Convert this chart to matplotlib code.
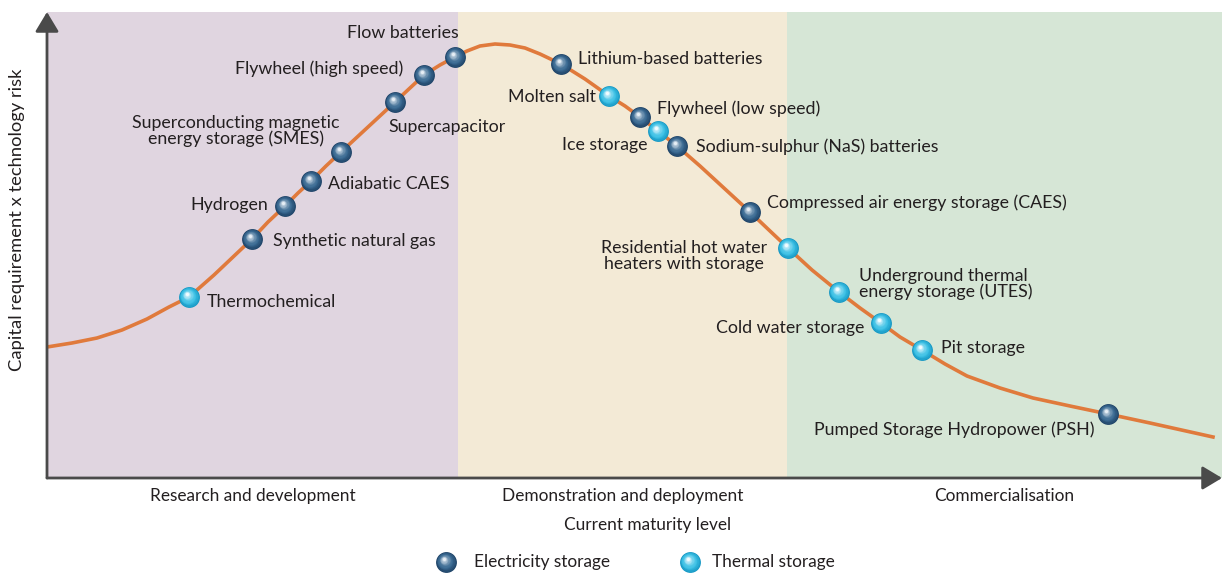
import matplotlib
matplotlib.use("Agg")
import matplotlib.pyplot as plt
import numpy as np

plt.rcParams['font.family'] = ['Lato', 'DejaVu Sans']

# maturity (x) and capital requirement x risk (y)
curve_x = [0, 25, 50, 75, 100, 122, 142, 167, 186, 205, 221, 238, 251, 264, 279, 294, 321,
           348, 363, 377, 393, 408, 420, 433, 448, 463, 478, 493, 514, 538, 562, 578,
           593, 611, 630, 653, 678, 703, 723, 741, 765, 792, 813, 834, 853, 875, 898,
           920, 953, 986, 1023, 1061, 1103, 1166]
curve_y = [131, 135, 140, 148, 159, 171, 181, 203, 221, 239, 256, 272, 285, 297, 312, 326, 351,
           376, 390, 403, 413, 421, 427, 432, 434, 433, 430, 424, 414, 399, 382, 372,
           361, 347, 332, 312, 289, 266, 247, 230, 208, 186, 170, 155, 141, 128, 114,
           102, 90, 80, 72, 64, 55, 41]

tech_names = ["Thermochemical", "Synthetic natural gas", "Hydrogen", "Adiabatic CAES",
              "Superconducting magnetic\nenergy storage (SMES)", "Supercapacitor",
              "Flywheel (high speed)", "Flow batteries", "Lithium-based batteries",
              "Molten salt", "Flywheel (low speed)", "Ice storage",
              "Sodium-sulphur (NaS) batteries", "Compressed air energy storage (CAES)",
              "Residential hot water\nheaters with storage",
              "Underground thermal\nenergy storage (UTES)", "Cold water storage",
              "Pit storage", "Pumped Storage Hydropower (PSH)"]
tech_x = [142, 205, 238, 264, 294, 348, 377, 408, 514, 562, 593, 611, 630, 703, 741,
          792, 834, 875, 1061]
tech_y = [181, 239, 272, 297, 326, 376, 403, 421, 414, 382, 361, 347, 332, 266, 230,
          186, 155, 128, 64]
tech_kind = ["thermal", "elec", "elec", "elec", "elec", "elec", "elec", "elec", "elec",
             "thermal", "elec", "thermal", "elec", "elec", "thermal", "thermal",
             "thermal", "thermal", "elec"]

stages = ["Research and development", "Demonstration and deployment", "Commercialisation"]
stage_edges = [0, 411, 740, 1175]
stage_colors = ["#e0d5e0", "#f3ead6", "#d6e6d6"]

# label placement: (dx, dy, ha) relative to the marker
label_layout = [(18, -5, "left"), (21, -2, "left"), (-17, 1, "right"), (17, -3, "left"),
                (-105, 21, "center"), (-7, -25, "left"), (-21, 6, "right"),
                (-52, 24, "center"), (17, 5, "left"), (-13, -1, "right"),
                (17, 8, "left"), (-10, -14, "right"), (19, -1, "left"),
                (17, 9, "left"), (-104, -8, "center"), (20, 8, "left"),
                (-17, -5, "right"), (19, 2, "left"), (-14, -16, "right")]

sphere_cols = {"elec": ("#1f4468", "#3b6b93", "#e6eef5"),
               "thermal": ("#1698c4", "#3fc2e6", "#f2fcff")}

FS = 12.8
TXT = "#231f20"


def blend(c1, c2, t):
    a = np.array(matplotlib.colors.to_rgb(c1))
    b = np.array(matplotlib.colors.to_rgb(c2))
    return tuple(a + (b - a) * t)


def sphere(ax, x, y, kind, size=15):
    edge, body, hi = sphere_cols[kind]
    n = 12
    for i in range(n):
        t = i / (n - 1)
        d = size * (1 - 0.85 * t)
        if t < 0.35:
            col = blend(edge, body, t / 0.35)
        else:
            col = blend(body, hi, ((t - 0.35) / 0.65) ** 1.6)
        off = 3.0 * t
        ax.plot(x - off * 0.7, y + off, marker="o", ms=d, color=col, mec="none",
                zorder=5 + i * 0.01, clip_on=False)


fig = plt.figure(figsize=(12.24, 5.73), dpi=100)
ax = fig.add_axes([47 / 1224, 95 / 573, 1175 / 1224, 466 / 573])
ax.set_xlim(0, 1175)
ax.set_ylim(0, 466)

for i in range(3):
    ax.axvspan(stage_edges[i], stage_edges[i + 1], color=stage_colors[i], lw=0, zorder=0)

ax.plot(curve_x, curve_y, color="#e07a3c", lw=2.6, solid_joinstyle="round", zorder=3)

for name, x, y, kind, (dx, dy, ha) in zip(tech_names, tech_x, tech_y, tech_kind, label_layout):
    sphere(ax, x, y, kind)
    ax.text(x + dx, y + dy, name, ha=ha, va="center", fontsize=FS, color=TXT,
            linespacing=1.0, multialignment=ha, zorder=6)

# axes drawn as arrows
for s in ax.spines.values():
    s.set_visible(False)
ax.set_xticks([])
ax.set_yticks([])
arrow = dict(arrowstyle="-|>,head_length=0.75,head_width=0.45", color="#4a4a4a",
             lw=2, mutation_scale=16, shrinkA=0, shrinkB=0)
ax.annotate("", xy=(1, 0), xytext=(0, 0), xycoords="axes fraction", arrowprops=arrow)
ax.annotate("", xy=(0, 1), xytext=(0, 0), xycoords="axes fraction", arrowprops=arrow)

for i, st in enumerate(stages):
    mid = (stage_edges[i] + stage_edges[i + 1]) / 2
    ax.text(mid, -18, st, ha="center", va="center", fontsize=12.4, color=TXT, clip_on=False)
ax.text(601, -47, "Current maturity level", ha="center", va="center", fontsize=12.4,
        color=TXT, clip_on=False)
ax.text(-30, 258, "Capital requirement x technology risk", rotation=90, ha="center",
        va="center", fontsize=13.2, color=TXT, clip_on=False)

# legend
sphere(ax, 399, -84, "elec")
ax.text(427, -84, "Electricity storage", ha="left", va="center", fontsize=12.4, color=TXT)
sphere(ax, 643, -84, "thermal")
ax.text(665, -84, "Thermal storage", ha="left", va="center", fontsize=12.4, color=TXT)

fig.savefig("out.png", dpi=100)
